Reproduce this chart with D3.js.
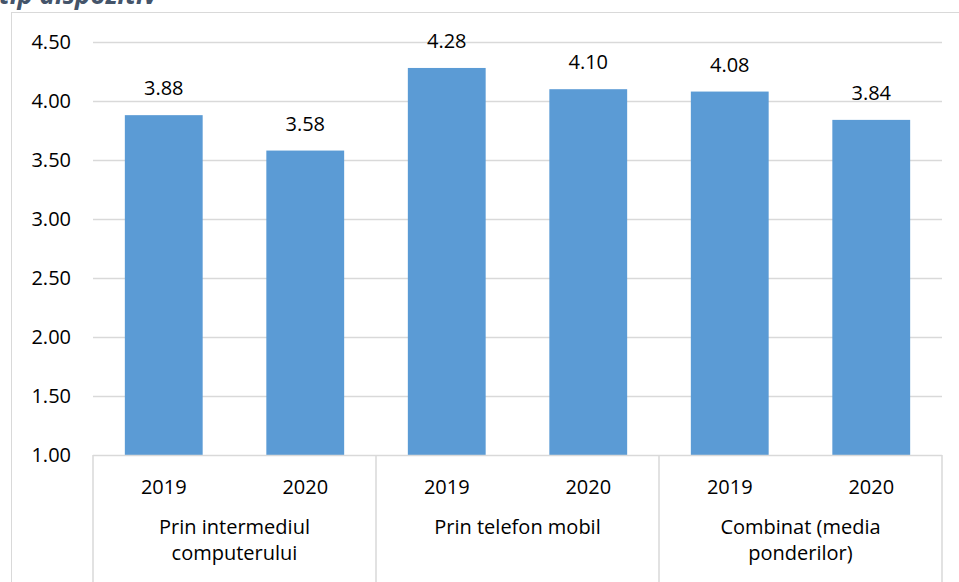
<!DOCTYPE html>
<html><head><meta charset="utf-8">
<script src="https://cdn.jsdelivr.net/npm/d3@7"></script>
<style>body{margin:0;background:#fff}svg{display:block}text{font-family:"Open Sans",sans-serif}</style>
</head><body>
<svg id="c" width="959" height="582"></svg>
<script>
const groups = [["Prin intermediul","computerului"],["Prin telefon mobil"],["Combinat (media","ponderilor)"]];
const years = ["2019","2020"];
const values = [3.88,3.58,4.28,4.10,4.08,3.84];
const yTicks = [1.00,1.50,2.00,2.50,3.00,3.50,4.00,4.50];
const titleText = "tip dispozitiv";

const svg = d3.select("#c");
const L=93,R=942,T=42,B=455;
const fs=20;
const cats = [];
groups.forEach((g,gi)=>years.forEach(y=>cats.push(gi+"-"+y)));
const x = d3.scaleBand().domain(cats).range([L,R]).paddingInner(0.45).paddingOuter(0.225);
const y = d3.scaleLinear().domain([1,4.5]).range([B,T]);
const grid="#D9D9D9";

svg.append("text").attr("x",-1).attr("y",4).attr("font-size",26).attr("font-weight","bold")
  .attr("font-style","italic").attr("fill","#44546A").text(titleText);
svg.append("rect").attr("x",11.5).attr("y",12.5).attr("width",960).attr("height",600)
  .attr("fill","none").attr("stroke",grid);

svg.append("g").selectAll("line").data(yTicks.slice(1)).join("line")
  .attr("x1",L).attr("x2",R).attr("y1",d=>Math.round(y(d))+0.5).attr("y2",d=>Math.round(y(d))+0.5)
  .attr("stroke",grid).attr("stroke-width",1.5);

const yAxis = svg.append("g").attr("transform",`translate(${L},0)`)
  .call(d3.axisLeft(y).tickValues(yTicks).tickFormat(d3.format(".2f")).tickSize(0).tickPadding(22));
yAxis.select(".domain").remove();
yAxis.selectAll("text").attr("font-size",fs).attr("fill","#000").attr("font-family","Open Sans");

svg.append("g").selectAll("rect").data(values).join("rect")
  .attr("x",(d,i)=>x(cats[i])).attr("width",x.bandwidth())
  .attr("y",d=>y(d)).attr("height",d=>B-y(d)).attr("fill","#5B9BD5");

svg.append("g").selectAll("text").data(values).join("text")
  .attr("x",(d,i)=>x(cats[i])+x.bandwidth()/2).attr("y",d=>y(d)-20)
  .attr("text-anchor","middle").attr("font-size",fs).attr("fill","#000").text(d=>d.toFixed(2));

// category axis
svg.append("line").attr("x1",L).attr("x2",R).attr("y1",B+0.5).attr("y2",B+0.5).attr("stroke",grid).attr("stroke-width",1.5);
const gw=(R-L)/groups.length;
const seps=d3.range(groups.length+1).map(i=>L+i*gw);
svg.append("g").selectAll("line").data(seps).join("line")
  .attr("x1",d=>d).attr("x2",d=>d).attr("y1",B).attr("y2",600).attr("stroke",grid).attr("stroke-width",1.5);
svg.append("g").selectAll("text").data(cats).join("text")
  .attr("x",d=>x(d)+x.bandwidth()/2).attr("y",494).attr("text-anchor","middle")
  .attr("font-size",fs).attr("fill","#000").text((d,i)=>years[i%2]);
const gl = svg.append("g").selectAll("text").data(groups).join("text")
  .attr("text-anchor","middle").attr("font-size",fs).attr("fill","#000");
gl.each(function(g,i){
  const t=d3.select(this);
  g.forEach((line,j)=>t.append("tspan").attr("x",L+gw*(i+0.5)).attr("y",534+j*26).text(line));
});
</script>
</body></html>
